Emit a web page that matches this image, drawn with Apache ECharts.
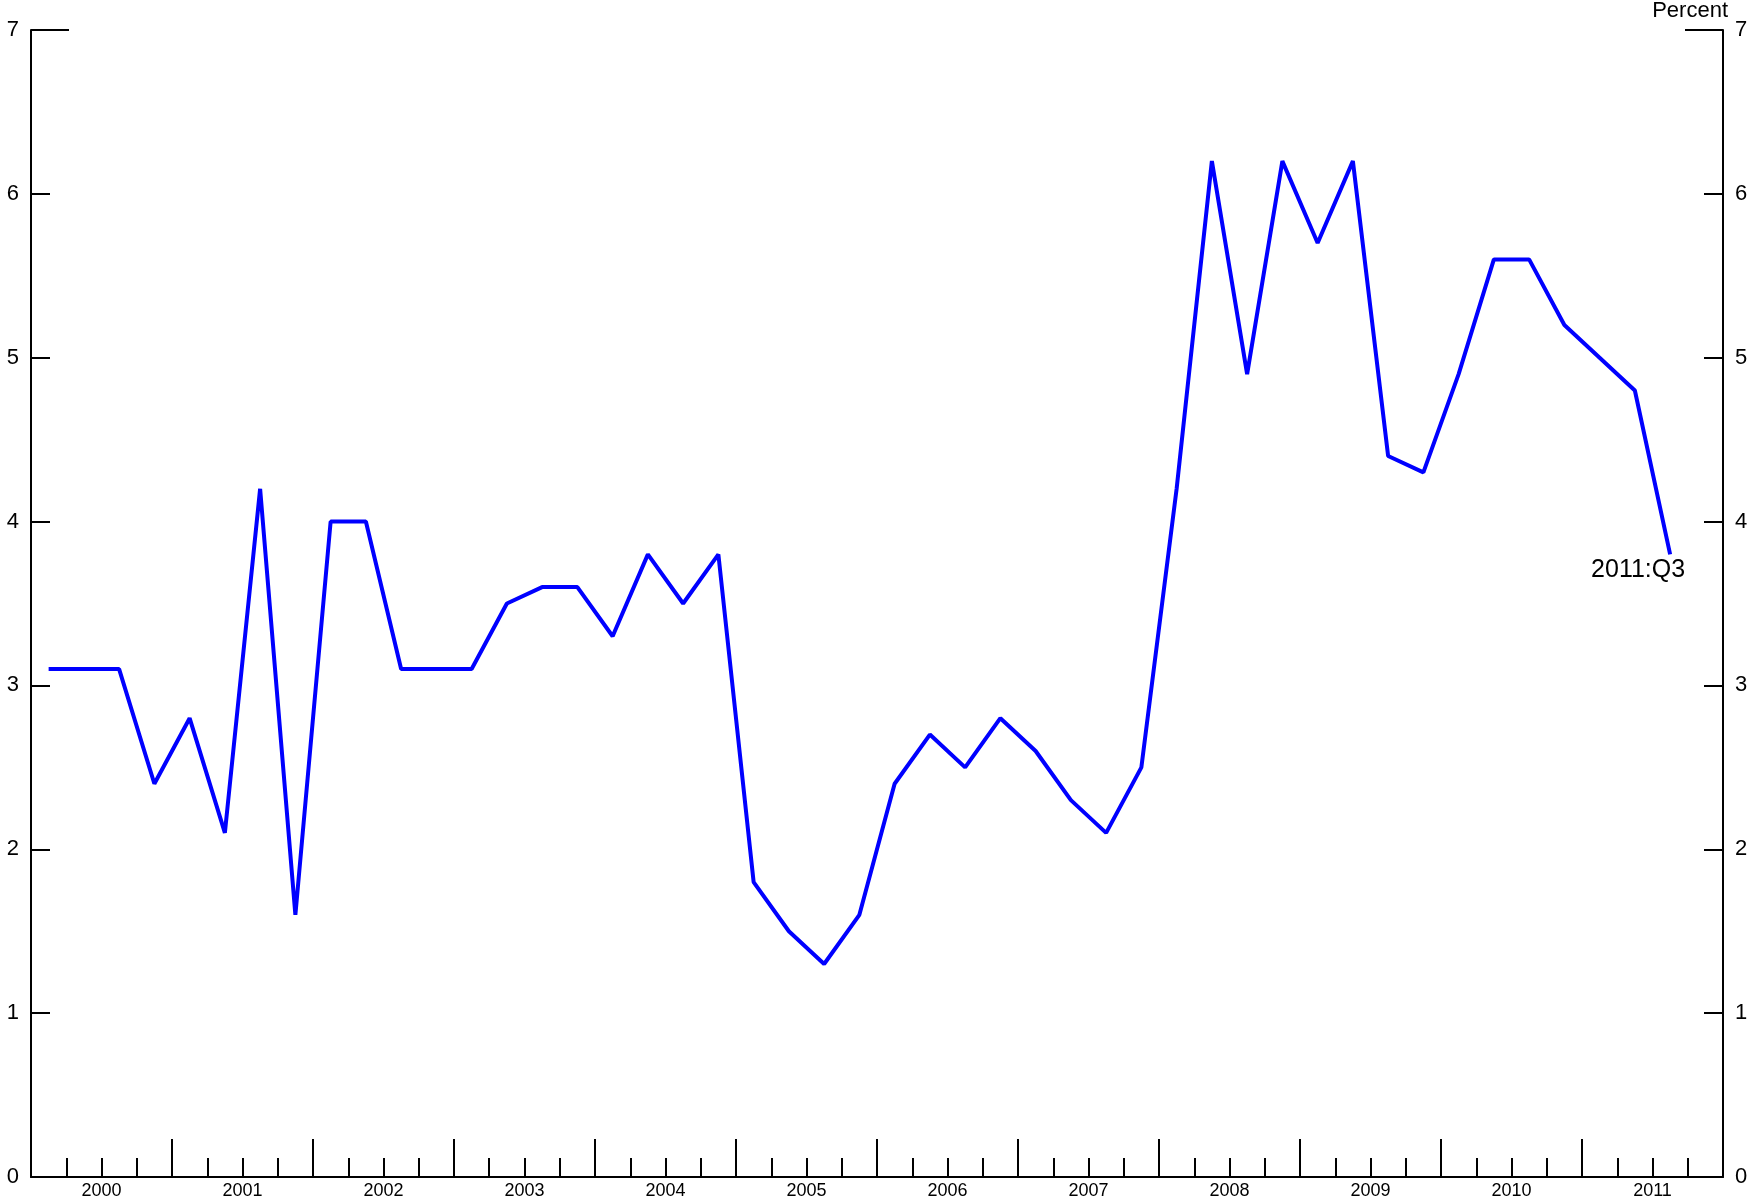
<!DOCTYPE html>
<html>
<head>
<meta charset="utf-8">
<script src="https://cdn.jsdelivr.net/npm/echarts@6/dist/echarts.min.js"></script>
<style>html,body{margin:0;padding:0;background:#fff;}#c{width:1753px;height:1201px;}</style>
</head>
<body>
<div id="c"></div>
<script>
// Quarterly values, 2000:Q1 through 2011:Q3
const yearLabels = ['2000','2001','2002','2003','2004','2005','2006','2007','2008','2009','2010','2011'];
const values = [
  3.1, 3.1, 3.1, 2.4,
  2.8, 2.1, 4.2, 1.6,
  4.0, 4.0, 3.1, 3.1,
  3.1, 3.5, 3.6, 3.6,
  3.3, 3.8, 3.5, 3.8,
  1.8, 1.5, 1.3, 1.6,
  2.4, 2.7, 2.5, 2.8,
  2.6, 2.3, 2.1, 2.5,
  4.2, 6.2, 4.9, 6.2,
  5.7, 6.2, 4.4, 4.3,
  4.9, 5.6, 5.6, 5.2,
  5.0, 4.8, 3.8
];
const lastLabel = '2011:Q3';
const yTicks = [0, 1, 2, 3, 4, 5, 6, 7];

const nQ = yearLabels.length * 4;
const seriesData = values.map((v, i) => [i + 0.5, v]);

const font = 'Liberation Sans, Arial, sans-serif';
const chart = echarts.init(document.getElementById('c'));
chart.setOption({
  animation: false,
  backgroundColor: '#fff',
  grid: { left: 31, right: 30, top: 27, bottom: 24, containLabel: false },
  xAxis: [
    {
      type: 'value', min: 0, max: nQ, interval: 1, position: 'bottom',
      axisLine: { show: true, onZero: false, lineStyle: { color: '#000', width: 2 } },
      axisTick: { show: true, inside: true, length: 19, lineStyle: { color: '#000', width: 2 } },
      axisLabel: {
        show: true, fontSize: 18, color: '#000', fontFamily: font, margin: 5,
        formatter: v => (v % 4 === 2 ? yearLabels[(v - 2) / 4] : '')
      },
      splitLine: { show: false }
    },
    {
      type: 'value', min: 0, max: nQ, interval: 4, position: 'bottom',
      axisLine: { show: false, onZero: false },
      axisTick: { show: true, inside: true, length: 38, lineStyle: { color: '#000', width: 2 } },
      axisLabel: { show: false },
      splitLine: { show: false }
    }
  ],
  yAxis: [
    {
      type: 'value', min: yTicks[0], max: yTicks[yTicks.length - 1], interval: 1, position: 'left',
      axisLine: { show: true, onZero: false, lineStyle: { color: '#000', width: 2 } },
      axisTick: { show: true, inside: true, length: 19, lineStyle: { color: '#000', width: 2 } },
      axisLabel: { fontSize: 22, color: '#000', fontFamily: font, margin: 12 },
      splitLine: { show: false }
    },
    {
      type: 'value', min: yTicks[0], max: yTicks[yTicks.length - 1], interval: 1, position: 'right',
      name: 'Percent', nameLocation: 'end', nameGap: 8,
      nameTextStyle: { fontSize: 22, color: '#000', fontFamily: font, align: 'right', verticalAlign: 'bottom', padding: [0, -5, 0, 0] },
      axisLine: { show: true, onZero: false, lineStyle: { color: '#000', width: 2 } },
      axisTick: { show: true, inside: true, length: 19, lineStyle: { color: '#000', width: 2 } },
      axisLabel: { fontSize: 22, color: '#000', fontFamily: font, margin: 12 },
      splitLine: { show: false }
    },
    {
      type: 'value', min: 0, max: 7, interval: 7, position: 'left',
      axisLine: { show: false, onZero: false },
      axisTick: { show: true, inside: true, length: 38, lineStyle: { color: '#000', width: 2 } },
      axisLabel: { show: false }, splitLine: { show: false }
    },
    {
      type: 'value', min: 0, max: 7, interval: 7, position: 'right',
      axisLine: { show: false, onZero: false },
      axisTick: { show: true, inside: true, length: 38, lineStyle: { color: '#000', width: 2 } },
      axisLabel: { show: false }, splitLine: { show: false }
    }
  ],
  series: [{
    type: 'line', xAxisIndex: 0, yAxisIndex: 0,
    data: seriesData,
    showSymbol: false, symbol: 'none',
    lineStyle: { color: '#0000FF', width: 4 },
    itemStyle: { color: '#0000FF' },
    endLabel: {
      show: true, formatter: lastLabel, distance: 0,
      align: 'right', verticalAlign: 'top', offset: [15, 3],
      fontSize: 25, color: '#000', fontFamily: font
    }
  }]
});
</script>
</body>
</html>
